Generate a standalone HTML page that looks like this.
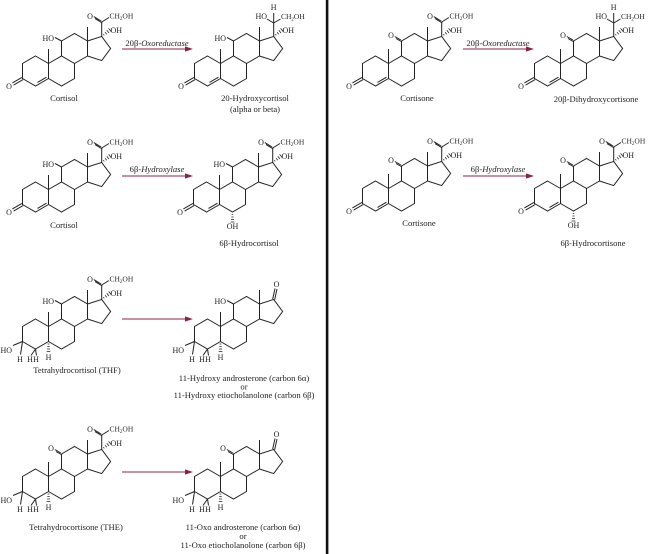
<!DOCTYPE html>
<html><head><meta charset="utf-8"><style>
html,body{margin:0;padding:0;background:#fff;}
svg{display:block;}
text{font-family:"Liberation Serif",serif;fill:#222;}
.a{font-size:8px;}
.c{font-size:7.5px;}
.l{font-size:8.6px;}
</style></head><body>
<svg width="650" height="554" viewBox="0 0 650 554" xmlns="http://www.w3.org/2000/svg">
<defs>
<g id="sk" fill="none" stroke="#222" stroke-width="1">
<path d="M35.5,56 L48.5,63.5 L48.5,78.5 L35.5,86 L22.5,78.5 L22.5,63.5 Z"/>
<path d="M48.5,63.5 L61.5,56 L74.5,63.5 L74.5,78.5 L61.5,86 L48.5,78.5"/>
<path d="M61.5,56 L61.5,41 L74.5,33.5 L87.5,41 L87.5,56 L74.5,63.5"/>
<path d="M87.5,41 L101.7,36.4 L110.6,48.5 L101.7,60.6 L87.5,56"/>
<path d="M48.5,63.5 V49 M87.5,41 V27"/>
</g>
<g id="en" fill="none" stroke="#222" stroke-width="1">
<path d="M37.5,82.4 L46.5,77.2"/>
<path d="M23.1,79.6 L13.6,85.1 M21.9,77.4 L12.4,82.9"/>
</g>
<g id="ho11" stroke="#222" stroke-width="1"><path d="M61.5,41 L55,37.5"/></g>
<g id="o11" stroke="#222" stroke-width="1"><path d="M62.1,42 L56,38.5 M60.9,40 L54.8,36.5"/></g>
<g id="sa" fill="none" stroke="#222" stroke-width="1">
<path d="M101.7,36.4 V22 L109,17.5"/>
<path d="M102.3,23 L95,18.6 M101.1,21 L93.8,16.6"/>
</g>
<g id="sb" fill="none" stroke="#222" stroke-width="1">
<path d="M101.7,36.4 V13 M101.7,23 L95,19 M101.7,23 L108.5,19"/>
</g>
<g id="oh17" fill="none" stroke="#222" stroke-width="0.8">
<path d="M103.3,34.2 L104.3,35.4 M105.1,32.2 L106.7,34.2 M106.8,30.2 L109,33 M108.6,28.4 L111.2,31.6"/>
</g>
<g id="k17" fill="none" stroke="#222" stroke-width="1">
<path d="M100.7,36 L103,25.5 M102.7,36.6 L105,26"/>
</g>
<g id="oh6" fill="none" stroke="#222" stroke-width="0.8">
<path d="M60.8,88.5 H62.2 M60.4,91 H62.6 M60,93.5 H63 M59.6,96 H63.4"/>
</g>
<g id="th" fill="none" stroke="#222" stroke-width="1">
<path d="M22.5,78.5 L13,82.5 M22.5,78.5 L20.5,91.5 M35.5,86 L31,92.5 M35.5,86 L36.5,92.5"/>
<path d="M47.6,81 H49.4 M47.3,83.5 H49.7 M47,86 H50 M46.7,88.5 H50.3" stroke-width="0.8"/>
</g>
<g id="arr">
<path d="M0,0 H64" stroke="#8a2444" stroke-width="1.1"/>
<path d="M71,0 L63,-2.6 L63,2.6 Z" fill="#8a2444"/>
</g>
</defs>

<rect x="325.8" y="0" width="2.6" height="554" fill="#111"/>

<!-- Row 1 left: Cortisol -->
<g transform="translate(0,0)">
<use href="#sk"/><use href="#en"/><use href="#ho11"/><use href="#sa"/><use href="#oh17"/>
<text class="a" x="54" y="41" text-anchor="end">HO</text>
<text class="a" x="9" y="89" text-anchor="middle">O</text>
<text class="a" x="90" y="19" text-anchor="middle">O</text>
<text class="c" x="109.5" y="18.5">CH<tspan font-size="5" dy="1.5">2</tspan><tspan dy="-1.5">OH</tspan></text>
<text class="a" x="110.5" y="33">OH</text>
</g>
<g transform="translate(172,0)">
<use href="#sk"/><use href="#en"/><use href="#ho11"/><use href="#sb"/><use href="#oh17"/>
<text class="a" x="54" y="41" text-anchor="end">HO</text>
<text class="a" x="9" y="89" text-anchor="middle">O</text>
<text class="a" x="101.7" y="10" text-anchor="middle">H</text>
<text class="a" x="95" y="19" text-anchor="end">HO</text>
<text class="c" x="109" y="19">CH<tspan font-size="5" dy="1.5">2</tspan><tspan dy="-1.5">OH</tspan></text>
<text class="a" x="110.5" y="33">OH</text>
</g>
<g transform="translate(122,49)"><use href="#arr"/></g>
<text class="l" x="157" y="46" text-anchor="middle">20β-<tspan font-style="italic">Oxoreductase</tspan></text>
<text class="l" x="64" y="101" text-anchor="middle">Cortisol</text>
<text class="l" x="255" y="101" text-anchor="middle">20-Hydroxycortisol</text>
<text class="l" x="255" y="112" text-anchor="middle">(alpha or beta)</text>

<!-- Row 1 right -->
<g transform="translate(340,0)">
<use href="#sk"/><use href="#en"/><use href="#o11"/><use href="#sa"/><use href="#oh17"/>
<text class="a" x="51" y="38" text-anchor="middle">O</text>
<text class="a" x="9" y="89" text-anchor="middle">O</text>
<text class="a" x="90" y="19" text-anchor="middle">O</text>
<text class="c" x="109.5" y="18.5">CH<tspan font-size="5" dy="1.5">2</tspan><tspan dy="-1.5">OH</tspan></text>
<text class="a" x="110.5" y="33">OH</text>
</g>
<g transform="translate(512,0)">
<use href="#sk"/><use href="#en"/><use href="#o11"/><use href="#sb"/><use href="#oh17"/>
<text class="a" x="51" y="38" text-anchor="middle">O</text>
<text class="a" x="9" y="89" text-anchor="middle">O</text>
<text class="a" x="101.7" y="10" text-anchor="middle">H</text>
<text class="a" x="95" y="19" text-anchor="end">HO</text>
<text class="c" x="109" y="19">CH<tspan font-size="5" dy="1.5">2</tspan><tspan dy="-1.5">OH</tspan></text>
<text class="a" x="110.5" y="33">OH</text>
</g>
<g transform="translate(463,49)"><use href="#arr"/></g>
<text class="l" x="498" y="46" text-anchor="middle">20β-<tspan font-style="italic">Oxoreductase</tspan></text>
<text class="l" x="417" y="101" text-anchor="middle">Cortisone</text>
<text class="l" x="596" y="102" text-anchor="middle">20β-Dihydroxycortisone</text>

<!-- Row 2 left -->
<g transform="translate(0,126)">
<use href="#sk"/><use href="#en"/><use href="#ho11"/><use href="#sa"/><use href="#oh17"/>
<text class="a" x="54" y="41" text-anchor="end">HO</text>
<text class="a" x="9" y="89" text-anchor="middle">O</text>
<text class="a" x="90" y="19" text-anchor="middle">O</text>
<text class="c" x="109.5" y="18.5">CH<tspan font-size="5" dy="1.5">2</tspan><tspan dy="-1.5">OH</tspan></text>
<text class="a" x="110.5" y="33">OH</text>
</g>
<g transform="translate(171,126)">
<use href="#sk"/><use href="#en"/><use href="#ho11"/><use href="#sa"/><use href="#oh17"/><use href="#oh6"/>
<text class="a" x="54" y="41" text-anchor="end">HO</text>
<text class="a" x="9" y="89" text-anchor="middle">O</text>
<text class="a" x="90" y="19" text-anchor="middle">O</text>
<text class="c" x="109.5" y="18.5">CH<tspan font-size="5" dy="1.5">2</tspan><tspan dy="-1.5">OH</tspan></text>
<text class="a" x="110.5" y="33">OH</text>
<text class="a" x="61.5" y="103" text-anchor="middle">OH</text>
</g>
<g transform="translate(122,176)"><use href="#arr"/></g>
<text class="l" x="157" y="172" text-anchor="middle">6β-<tspan font-style="italic">Hydroxylase</tspan></text>
<text class="l" x="64" y="228" text-anchor="middle">Cortisol</text>
<text class="l" x="249" y="246" text-anchor="middle">6β-Hydrocortisol</text>

<!-- Row 2 right -->
<g transform="translate(340,125)">
<use href="#sk"/><use href="#en"/><use href="#o11"/><use href="#sa"/><use href="#oh17"/>
<text class="a" x="51" y="38" text-anchor="middle">O</text>
<text class="a" x="9" y="89" text-anchor="middle">O</text>
<text class="a" x="90" y="19" text-anchor="middle">O</text>
<text class="c" x="109.5" y="18.5">CH<tspan font-size="5" dy="1.5">2</tspan><tspan dy="-1.5">OH</tspan></text>
<text class="a" x="110.5" y="33">OH</text>
</g>
<g transform="translate(512,125)">
<use href="#sk"/><use href="#en"/><use href="#o11"/><use href="#sa"/><use href="#oh17"/><use href="#oh6"/>
<text class="a" x="51" y="38" text-anchor="middle">O</text>
<text class="a" x="9" y="89" text-anchor="middle">O</text>
<text class="a" x="90" y="19" text-anchor="middle">O</text>
<text class="c" x="109.5" y="18.5">CH<tspan font-size="5" dy="1.5">2</tspan><tspan dy="-1.5">OH</tspan></text>
<text class="a" x="110.5" y="33">OH</text>
<text class="a" x="61.5" y="103" text-anchor="middle">OH</text>
</g>
<g transform="translate(463,176)"><use href="#arr"/></g>
<text class="l" x="498" y="172" text-anchor="middle">6β-<tspan font-style="italic">Hydroxylase</tspan></text>
<text class="l" x="419" y="226" text-anchor="middle">Cortisone</text>
<text class="l" x="593" y="246" text-anchor="middle">6β-Hydrocortisone</text>

<!-- Row 3 -->
<g transform="translate(0,263)">
<use href="#sk"/><use href="#th"/><use href="#ho11"/><use href="#sa"/><use href="#oh17"/>
<text class="a" x="54" y="41" text-anchor="end">HO</text>
<text class="a" x="90" y="19" text-anchor="middle">O</text>
<text class="c" x="109.5" y="18.5">CH<tspan font-size="5" dy="1.5">2</tspan><tspan dy="-1.5">OH</tspan></text>
<text class="a" x="110.5" y="33">OH</text>
<text class="a" x="12" y="90" text-anchor="end">HO</text>
<text class="a" x="20" y="99" text-anchor="middle">H</text>
<text class="a" x="30" y="99" text-anchor="middle">H</text>
<text class="a" x="36" y="99" text-anchor="middle">H</text>
<text class="a" x="48.5" y="97" text-anchor="middle">H</text>
</g>
<g transform="translate(172,263)">
<use href="#sk"/><use href="#th"/><use href="#ho11"/><use href="#k17"/>
<text class="a" x="54" y="41" text-anchor="end">HO</text>
<text class="a" x="104.5" y="24" text-anchor="middle">O</text>
<text class="a" x="12" y="90" text-anchor="end">HO</text>
<text class="a" x="20" y="99" text-anchor="middle">H</text>
<text class="a" x="30" y="99" text-anchor="middle">H</text>
<text class="a" x="36" y="99" text-anchor="middle">H</text>
<text class="a" x="48.5" y="97" text-anchor="middle">H</text>
</g>
<g transform="translate(122,319)"><use href="#arr"/></g>
<text class="l" x="77" y="373" text-anchor="middle">Tetrahydrocortisol (THF)</text>
<text class="l" x="244" y="381" text-anchor="middle">11-Hydroxy androsterone (carbon 6α)</text>
<text class="l" x="244" y="389.5" text-anchor="middle">or</text>
<text class="l" x="244" y="398" text-anchor="middle">11-Hydroxy etiocholanolone (carbon 6β)</text>

<!-- Row 4 -->
<g transform="translate(0,413)">
<use href="#sk"/><use href="#th"/><use href="#o11"/><use href="#sa"/><use href="#oh17"/>
<text class="a" x="51" y="38" text-anchor="middle">O</text>
<text class="a" x="90" y="19" text-anchor="middle">O</text>
<text class="c" x="109.5" y="18.5">CH<tspan font-size="5" dy="1.5">2</tspan><tspan dy="-1.5">OH</tspan></text>
<text class="a" x="110.5" y="33">OH</text>
<text class="a" x="12" y="90" text-anchor="end">HO</text>
<text class="a" x="20" y="99" text-anchor="middle">H</text>
<text class="a" x="30" y="99" text-anchor="middle">H</text>
<text class="a" x="36" y="99" text-anchor="middle">H</text>
<text class="a" x="48.5" y="97" text-anchor="middle">H</text>
</g>
<g transform="translate(172,413)">
<use href="#sk"/><use href="#th"/><use href="#o11"/><use href="#k17"/>
<text class="a" x="51" y="38" text-anchor="middle">O</text>
<text class="a" x="104.5" y="24" text-anchor="middle">O</text>
<text class="a" x="12" y="90" text-anchor="end">HO</text>
<text class="a" x="20" y="99" text-anchor="middle">H</text>
<text class="a" x="30" y="99" text-anchor="middle">H</text>
<text class="a" x="36" y="99" text-anchor="middle">H</text>
<text class="a" x="48.5" y="97" text-anchor="middle">H</text>
</g>
<g transform="translate(122,472)"><use href="#arr"/></g>
<text class="l" x="76" y="530" text-anchor="middle">Tetrahydrocortisone (THE)</text>
<text class="l" x="243" y="530" text-anchor="middle">11-Oxo androsterone (carbon 6α)</text>
<text class="l" x="243" y="539" text-anchor="middle">or</text>
<text class="l" x="243" y="548" text-anchor="middle">11-Oxo etiocholanolone (carbon 6β)</text>
</svg>
</body></html>
